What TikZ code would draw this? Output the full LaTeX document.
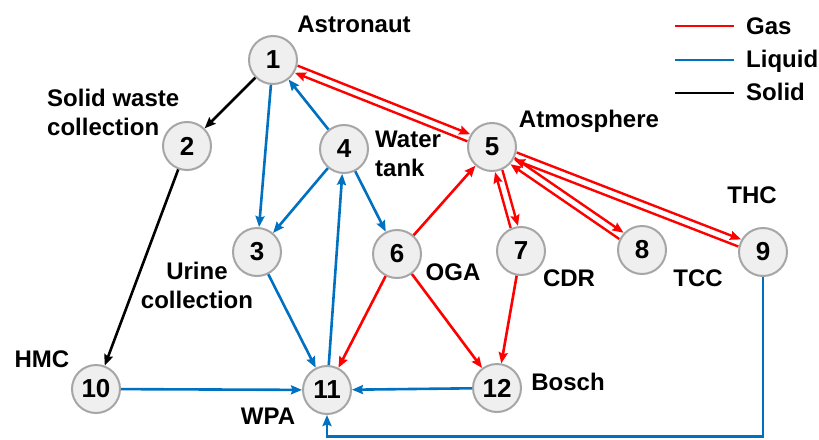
\documentclass[tikz,border=0pt]{standalone}
\usepackage{fontspec}
\setmainfont{Liberation Sans}
\usetikzlibrary{arrows.meta,calc}
\definecolor{gasred}{RGB}{255,0,0}
\definecolor{liqblue}{RGB}{0,112,192}
\definecolor{nodefill}{RGB}{239,239,239}
\definecolor{nodedraw}{RGB}{166,166,166}
\begin{document}
\begin{tikzpicture}[x=1pt,y=-1pt,
  stn/.style={circle,draw=nodedraw,fill=nodefill,line width=2pt,minimum size=48pt,inner sep=0pt,
    font=\fontsize{26}{26}\selectfont\bfseries},
  lbl/.style={font=\fontsize{24}{29}\selectfont\bfseries,inner sep=0pt},
  flow/.style={line width=2.6pt,-{Stealth[length=11pt,width=9pt,inset=1.5pt]}},
  gas/.style={flow,gasred},
  liq/.style={flow,liqblue},
  sol/.style={flow,black},
  pair/.style={gas,line width=2.4pt,shorten <=25pt,shorten >=25pt},
  legline/.style={line width=2.8pt}
]
\useasboundingbox (0,0) rectangle (819,439);

% stations
\node[stn] (n1) at (273,60) {1};
\node[stn] (n2) at (187,146) {2};
\node[stn] (n3) at (257,252) {3};
\node[stn] (n4) at (344,149) {4};
\node[stn] (n5) at (492,147) {5};
\node[stn] (n6) at (397,254) {6};
\node[stn] (n7) at (521,251) {7};
\node[stn] (n8) at (642,250) {8};
\node[stn] (n9) at (763,252) {9};
\node[stn] (n10) at (96,389) {10};
\node[stn] (n11) at (327,390) {11};
\node[stn] (n12) at (497,388) {12};

% labels
\node[lbl,anchor=base] (lAstro) at (354,32) {Astronaut};
\node[lbl,anchor=north west,align=left] (lSolid) at (47,89) {Solid waste\\collection};
\node[lbl,anchor=north west,align=left] (lWater) at (375,131) {Water\\tank};
\node[lbl,anchor=base] (lAtmo) at (589,127) {Atmosphere};
\node[lbl,anchor=base] (lTHC) at (752,203) {THC};
\node[lbl,anchor=north,align=center] (lUrine) at (197,262) {Urine\\collection};
\node[lbl,anchor=base] (lHMC) at (42,367) {HMC};
\node[lbl,anchor=base] (lWPA) at (268,424) {WPA};
\node[lbl,anchor=base] (lOGA) at (453,280) {OGA};
\node[lbl,anchor=base] (lCDR) at (569,286) {CDR};
\node[lbl,anchor=base] (lTCC) at (698,286) {TCC};
\node[lbl,anchor=base] (lBosch) at (568,390) {Bosch};

% legend
\node[lbl,anchor=base west] (gGas) at (746,34) {Gas};
\node[lbl,anchor=base west] (gLiq) at (746,67) {Liquid};
\node[lbl,anchor=base west] (gSol) at (746,100) {Solid};
\coordinate (gGasS) at (675,26);
\coordinate (gLiqS) at (675,60);
\coordinate (gSolS) at (675,93);
\coordinate (gGasE) at (734,26);
\coordinate (gLiqE) at (734,60);
\coordinate (gSolE) at (734,93);
\draw[legline,gasred] (gGasS) -- (gGasE);
\draw[legline,liqblue] (gLiqS) -- (gLiqE);
\draw[legline,black] (gSolS) -- (gSolE);

% solid flows
\draw[sol] (n1) -- (n2);
\draw[sol] (n2) -- (n10);

% liquid flows
\draw[liq] (n1) -- (n3);
\draw[liq] (n4) -- (n1);
\draw[liq] (n4) -- (n3);
\draw[liq] (n4) -- (n6);
\draw[liq] (n11) -- (n4);
\draw[liq] (n3) -- (n11);
\draw[liq] (n10) -- (n11);
\draw[liq] (n12) -- (n11);
\coordinate (c9b) at (763,436.5);
\coordinate (c11b) at (327,436.5);
\draw[liq] (n9.south) -- (c9b) -- (c11b) -- (n11.south);

% gas flows
\draw[gas] (n6) -- (n5);
\draw[gas] (n6) -- (n11);
\draw[gas] (n6) -- (n12);
\draw[gas] (n7) -- (n12);

% paired gas exchanges with the atmosphere
\draw[pair] ($(n1)!3.8pt!90:(n5)$) -- ($(n5)!3.8pt!-90:(n1)$);
\draw[pair] ($(n5)!3.8pt!90:(n1)$) -- ($(n1)!3.8pt!-90:(n5)$);
\draw[pair] ($(n5)!3.8pt!90:(n7)$) -- ($(n7)!3.8pt!-90:(n5)$);
\draw[pair] ($(n7)!3.8pt!90:(n5)$) -- ($(n5)!3.8pt!-90:(n7)$);
\draw[pair] ($(n5)!3.8pt!90:(n8)$) -- ($(n8)!3.8pt!-90:(n5)$);
\draw[pair] ($(n8)!3.8pt!90:(n5)$) -- ($(n5)!3.8pt!-90:(n8)$);
\draw[pair] ($(n5)!3.8pt!90:(n9)$) -- ($(n9)!3.8pt!-90:(n5)$);
\draw[pair] ($(n9)!3.8pt!90:(n5)$) -- ($(n5)!3.8pt!-90:(n9)$);
\end{tikzpicture}
\end{document}
